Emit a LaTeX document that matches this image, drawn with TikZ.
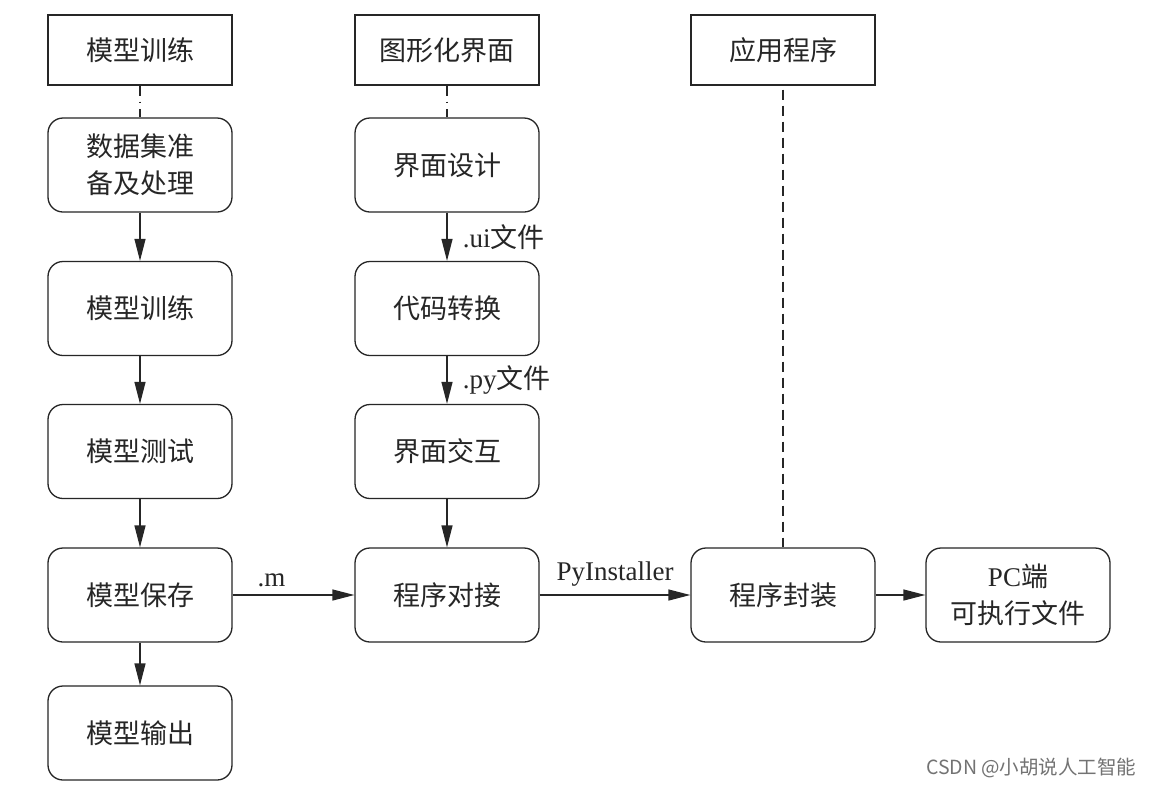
\documentclass[tikz,border=0pt]{standalone}
\usepackage{fontspec}
\setmainfont{Liberation Serif}
\newfontfamily\cjk{Noto Sans CJK SC}
\newfontfamily\wm{Noto Sans CJK SC}
\usetikzlibrary{arrows.meta}
\newcommand{\zh}[1]{{\cjk #1}}
\begin{document}
\begin{tikzpicture}[x=1pt,y=-1pt,
  base/.style={draw=black!85, line width=1.3pt, minimum width=184pt, inner sep=0pt, align=center, font=\fontsize{27}{37}\selectfont\cjk, text=black!85},
  hdrbox/.style={base, minimum height=70pt},
  stepbox/.style={base, minimum height=94pt, rounded corners=15pt},
  arr/.style={line width=1.3pt, draw=black!85, -{Triangle[length=22pt,width=11pt]}},
  lnk/.style={line width=1.3pt, draw=black!85, dash pattern=on 10pt off 6pt on 1.5pt off 6pt},
  lbl/.style={font=\fontsize{27}{30}\selectfont, text=black!85}
]
\useasboundingbox (0,0) rectangle (1154,788);
\fill[white] (0,0) rectangle (1154,788);
% column 1
\node[hdrbox] (h1) at (140,50) {模型训练};
\node[stepbox] (a1) at (140,165) {数据集准\\备及处理};
\node[stepbox] (a2) at (140,308.5) {模型训练};
\node[stepbox] (a3) at (140,451.5) {模型测试};
\node[stepbox] (a4) at (140,595) {模型保存};
\node[stepbox] (a5) at (140,733) {模型输出};
% column 2
\node[hdrbox] (h2) at (447,50) {图形化界面};
\node[stepbox] (b1) at (447,165) {界面设计};
\node[stepbox] (b2) at (447,308.5) {代码转换};
\node[stepbox] (b3) at (447,451.5) {界面交互};
\node[stepbox] (b4) at (447,595) {程序对接};
% column 3
\node[hdrbox] (h3) at (783,50) {应用程序};
\node[stepbox] (c1) at (783,595) {程序封装};
\node[stepbox] (d1) at (1018,595) {{\fontspec{Liberation Serif}PC}端\\可执行文件};
% links
\draw[lnk] (h1.south) -- (a1.north);
\draw[lnk] (h2.south) -- (b1.north);
\draw[line width=1.3pt, draw=black!85, dash pattern=on 10pt off 6pt] ([yshift=-4pt]h3.south) -- (c1.north);
\draw[arr] (a1) -- (a2);
\draw[arr] (a2) -- (a3);
\draw[arr] (a3) -- (a4);
\draw[arr] (a4) -- (a5);
\draw[arr] (b1) -- node[right=12pt, lbl] {.ui\zh{文件}} (b2);
\draw[arr] (b2) -- node[right=12pt, lbl] {.py\zh{文件}} (b3);
\draw[arr] (b3) -- (b4);
\draw[arr] (a4) -- node[above=4pt, pos=0.32, lbl] {.m} (b4);
\draw[arr] (b4) -- node[above=5pt, lbl] {PyInstaller} (c1);
\draw[arr] (c1) -- (d1);
\node[font=\fontsize{19.5}{22}\selectfont\wm, text=black!55, anchor=east] (wmk) at (1140,768) {CSDN @小胡说人工智能};
\end{tikzpicture}
\end{document}
